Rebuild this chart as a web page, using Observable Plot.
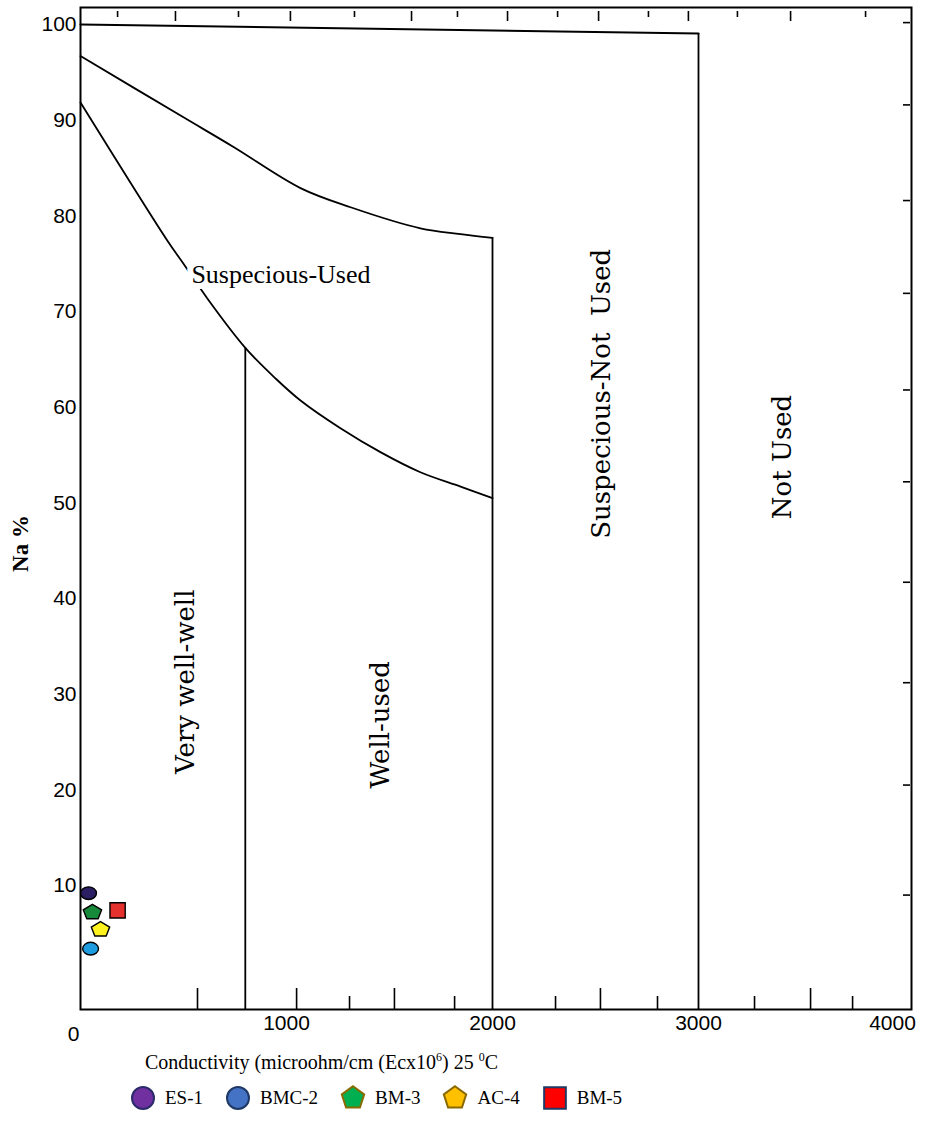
<!DOCTYPE html>
<html>
<head>
<meta charset="utf-8">
<script src="https://cdn.jsdelivr.net/npm/d3@7"></script>
<script src="https://cdn.jsdelivr.net/npm/@observablehq/plot@0.6"></script>
<style>
  body { margin: 0; background: #fff; }
  #chart svg { display: block; }
  .xlabel { font-family: "Liberation Serif", serif; font-size: 20px; line-height: 22px; margin: 6px 0 0 145px; color: #000; }
  .xlabel sup { font-size: 12px; line-height: 0; vertical-align: 8px; }
  #legend { display: flex; align-items: center; margin: 12px 0 0 130px; font-family: "Liberation Serif", serif; font-size: 19px; color: #000; }
  #legend .item { display: flex; align-items: center; margin-right: 22px; }
  #legend svg { display: block; margin-right: 9px; }
</style>
</head>
<body>
<div id="chart"></div>
<div class="xlabel">Conductivity (microohm/cm (Ecx10<sup>6</sup>) 25 <sup>0</sup>C</div>
<div id="legend"></div>
<script>
// Water samples: electrical conductivity and sodium percentage
const sampleNames = ["ES-1", "BMC-2", "BM-3", "AC-4", "BM-5"];
const sampleEC = [39, 49, 58, 97, 180];
const sampleNa = [9.2, 3.4, 7.2, 5.4, 7.4];
const sampleShape = ["ellipse", "ellipse", "pentagon", "pentagon", "square"];
const sampleFill = ["#2B1E63", "#1E9CE0", "#17893A", "#FFF21F", "#E5312E"];
const legendFill = ["#7030A0", "#4472C4", "#00B050", "#FFC000", "#FF0000"];
const legendStroke = ["#2B2B6B", "#1F3864", "#8A6A00", "#8A6A00", "#1F3864"];

// Wilcox class boundaries
const topEC = [0, 3000];
const topNa = [100, 99.06];
const upperEC = [0, 500, 743, 1068, 1311, 1650, 1845, 2000];
const upperNa = [96.7, 90.3, 87.2, 82.9, 80.9, 78.7, 78.1, 77.7];
const lowerEC = [0, 422, 500, 621, 800, 947, 1068, 1262, 1456, 1650, 1845, 2000];
const lowerNa = [91.85, 77.4, 75.0, 71.2, 66.2, 63.0, 60.7, 57.8, 55.3, 53.2, 51.7, 50.5];
const dividerEC = [800, 2000, 3000];
const dividerTop = [66.2, 77.7, 99.06];

// Class names
const zoneNames = ["Suspecious-Used", "Suspecious-Not\u00a0 Used", "Not Used", "Very well-well", "Well-used"];
const zoneEC = [973, 2532, 3408, 510, 1456];
const zoneNa = [73.9, 61.4, 54.8, 31.3, 26.8];

// Axis ticks
const xTickValues = [1000, 2000, 3000, 4000];
const yTickValues = [10, 20, 30, 40, 50, 60, 70, 80, 90, 100];
const topTicksLong = [461, 1019, 1607, 2073, 2515, 2951, 3447];
const topTicksShort = [180, 767, 1330, 1830, 2316, 2757, 3189, 3811];
const bottomTicksLong = [568, 1049, 1524, 2524, 3544];
const bottomTicksShort = [1306, 1816, 2306, 2801, 3272, 3748];
const rightTicks = [100.2, 91.6, 81.6, 71.9, 61.8, 52.2, 41.7, 31.2, 20.5, 9.0];
const yLabelAt = {ec: 0, na: 45.75};

const xDomain = [0, 4034];
const yDomain = [-2.96, 101.78];

// Custom symbols
function pentagon(flat) {
  return {
    draw(ctx, size) {
      const r = Math.sqrt(size / 2.3776);
      for (let i = 0; i < 5; ++i) {
        const a = -Math.PI / 2 + i * 2 * Math.PI / 5;
        const px = r * Math.cos(a), py = r * Math.sin(a) * flat;
        if (i) ctx.lineTo(px, py); else ctx.moveTo(px, py);
      }
      ctx.closePath();
    }
  };
}
function ellipse(sx, sy) {
  return {
    draw(ctx, size) {
      const r = Math.sqrt(size / Math.PI), rx = r * sx, ry = r * sy, k = 0.5523;
      ctx.moveTo(rx, 0);
      ctx.bezierCurveTo(rx, ry * k, rx * k, ry, 0, ry);
      ctx.bezierCurveTo(-rx * k, ry, -rx, ry * k, -rx, 0);
      ctx.bezierCurveTo(-rx, -ry * k, -rx * k, -ry, 0, -ry);
      ctx.bezierCurveTo(rx * k, -ry, rx, -ry * k, rx, 0);
      ctx.closePath();
    }
  };
}
const plotSymbols = {ellipse: ellipse(1.1, 0.88), pentagon: pentagon(0.82), square: d3.symbolSquare};
const plotRadius = {ellipse: 7.2, pentagon: 8.4, square: 8.6};

const samples = sampleNames.map((name, i) => ({
  name, ec: sampleEC[i], na: sampleNa[i], shape: sampleShape[i], fill: sampleFill[i]
}));
const toRows = (xs, ys) => xs.map((x, i) => ({ec: x, na: ys[i]}));
const dividers = dividerEC.map((x, i) => ({ec: x, top: dividerTop[i]}));
const zones = zoneNames.map((name, i) => ({name, ec: zoneEC[i], na: zoneNa[i]}));

const lineStyle = {x: "ec", y: "na", stroke: "black", strokeWidth: 1.8};
const intFormat = d3.format("d");

const chart = Plot.plot({
  width: 927,
  height: 1045,
  marginLeft: 80,
  marginRight: 16,
  marginTop: 7,
  marginBottom: 36,
  style: {fontFamily: "Liberation Sans, Arial, sans-serif", fontSize: "21px", color: "black", background: "white"},
  x: {domain: xDomain, axis: null},
  y: {domain: yDomain, axis: null},
  color: {type: "identity"},
  marks: [
    // class boundaries
    Plot.line(toRows(topEC, topNa), {...lineStyle, strokeWidth: 2}),
    Plot.line(toRows(upperEC, upperNa), {...lineStyle, curve: "catmull-rom"}),
    Plot.line(toRows(lowerEC, lowerNa), {...lineStyle, curve: "catmull-rom"}),
    Plot.ruleX(dividers, {x: "ec", y1: yDomain[0], y2: "top", stroke: "black", strokeWidth: 1.8}),

    // class names
    Plot.text(zones.slice(0, 1), {
      x: "ec", y: "na", text: "name",
      fontFamily: "Liberation Serif, Times New Roman, serif", fontSize: 26,
      fill: "black", stroke: "white", strokeWidth: 12
    }),
    Plot.text(zones.slice(1), {
      x: "ec", y: "na", text: "name", rotate: -90,
      fontFamily: "DejaVu Serif, serif", fontSize: 26, fill: "black"
    }),

    // frame and ticks
    Plot.frame({stroke: "black", strokeWidth: 2}),
    Plot.axisX(topTicksLong, {anchor: "top", tickSize: -10, insetTop: 3, fill: "none", strokeWidth: 1.6}),
    Plot.axisX(topTicksShort, {anchor: "top", tickSize: -6, insetTop: 3, fill: "none", strokeWidth: 1.6}),
    Plot.axisX(bottomTicksLong, {anchor: "bottom", tickSize: -21, fill: "none", strokeWidth: 1.6}),
    Plot.axisX(bottomTicksShort, {anchor: "bottom", tickSize: -13, fill: "none", strokeWidth: 1.6}),
    Plot.axisY(rightTicks, {anchor: "right", tickSize: -7, insetRight: 2, fill: "none", strokeWidth: 1.6}),

    // tick labels
    Plot.axisY(yTickValues, {anchor: "left", tickSize: 0, tickPadding: 4, label: null, tickFormat: intFormat}),
    Plot.axisX(xTickValues.slice(0, 3), {anchor: "bottom", tickSize: 0, tickPadding: 6, label: null, tickFormat: intFormat}),
    Plot.axisX(xTickValues.slice(3), {anchor: "bottom", tickSize: 0, tickPadding: 6, dx: -12, label: null, tickFormat: intFormat}),
    Plot.axisX([0], {anchor: "bottom", tickSize: 0, tickPadding: 6, dx: -7, dy: 11, label: null, tickFormat: intFormat}),
    Plot.text([yLabelAt], {
      x: "ec", y: "na", text: () => "Na %", dx: -60, rotate: -90,
      fontFamily: "Liberation Serif, Times New Roman, serif", fontSize: 23, fontWeight: "bold", fill: "black"
    }),

    // samples
    ...Object.keys(plotSymbols).map((shape) =>
      Plot.dot(samples.filter((d) => d.shape === shape), {
        x: "ec", y: "na", fill: "fill", stroke: "black", strokeWidth: 1.4,
        symbol: plotSymbols[shape], r: plotRadius[shape]
      })
    )
  ]
});
document.getElementById("chart").append(chart);

// legend
const legendSymbols = [d3.symbolCircle, d3.symbolCircle, pentagon(1), pentagon(1), d3.symbolSquare];
const legendSizes = [380, 380, 330, 330, 470];
const legend = d3.select("#legend");
sampleNames.forEach((name, i) => {
  const item = legend.append("div").attr("class", "item");
  const svg = item.append("svg").attr("width", 26).attr("height", 26);
  svg.append("path")
    .attr("transform", "translate(13,13)")
    .attr("d", d3.symbol(legendSymbols[i], legendSizes[i])())
    .attr("fill", legendFill[i])
    .attr("stroke", legendStroke[i])
    .attr("stroke-width", 2);
  item.append("span").text(name);
});
</script>
</body>
</html>
